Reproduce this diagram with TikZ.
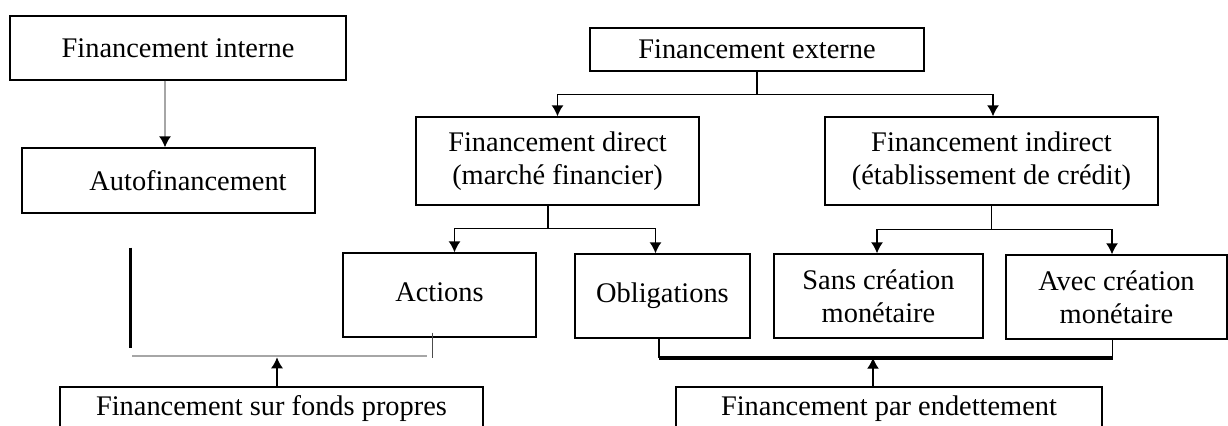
\documentclass[tikz,border=0pt]{standalone}
\usepackage{fontspec}
\setmainfont{Liberation Serif}
\usetikzlibrary{positioning, arrows.meta}
\tikzstyle{box} = [rectangle, draw=black, line width=0.7pt, text centered, align=center, inner sep=0pt, font=\fontsize{14.2}{16.5}\selectfont]
\tikzstyle{arrow} = [line width=0.7pt, -{Latex[length=5.5pt,width=6pt]}]
\tikzstyle{link} = [line width=0.7pt]

\begin{document}
\begin{tikzpicture}[x=0.5pt, y=-0.5pt]
    \useasboundingbox (0,0) rectangle (1228,425);
    \node (interne) [box, minimum width=168pt, minimum height=32pt] at (178,48) {Financement interne};
    \node (autofin) [box, minimum width=146.5pt, minimum height=32.5pt] at (168.5,180.5) {\hspace*{19.5pt}Autofinancement};
    \node (externe) [box, minimum width=167pt, minimum height=21.5pt] at (757,49.5) {Financement externe};
    \node (direct) [box, minimum width=141.5pt, minimum height=44pt] at (557.5,161) {Financement direct\\(marché financier)};
    \node (indirect) [box, minimum width=166.5pt, minimum height=44pt] at (991.5,161) {Financement indirect\\(établissement de crédit)};
    \node (actions) [box, minimum width=96.5pt, minimum height=42pt] at (439.5,295) {\raisebox{3pt}{Actions}};
    \node (oblig) [box, minimum width=87.5pt, minimum height=42pt] at (662.5,296) {\raisebox{3pt}{Obligations}};
    \node (sans) [box, minimum width=104.5pt, minimum height=42pt] at (878.5,296) {Sans création\\monétaire};
    \node (avec) [box, minimum width=110.5pt, minimum height=42pt] at (1116.5,297) {Avec création\\monétaire};
    \node (fonds) [box, minimum width=211.5pt, minimum height=22pt] at (271.5,409) {Financement sur fonds propres};
    \node (dette) [box, minimum width=213pt, minimum height=22pt] at (889,409) {Financement par endettement};

    \draw [arrow, draw=gray!70, -{Latex[length=5.5pt,width=6pt,color=black]}] ([xshift=-6.5pt]interne.south) -- ([xshift=-6.5pt]interne.south |- autofin.north);

    \draw [arrow] (externe.south) -- ++(0,-11.5pt) -| (direct.north);
    \draw [arrow] (externe.south) -- ++(0,-11.5pt) -| ([xshift=0.75pt]indirect.north);
    \draw [arrow] ([xshift=-4.75pt]direct.south) -- ++(0,-11.5pt) -| ([xshift=7.5pt]actions.north);
    \draw [arrow] ([xshift=-4.75pt]direct.south) -- ++(0,-11.5pt) -| ([xshift=-3.5pt]oblig.north);
    \draw [arrow] (indirect.south) -- ++(0,-12pt) -| ([xshift=-0.75pt]sans.north);
    \draw [arrow] (indirect.south) -- ++(0,-12pt) -| ([xshift=-2.25pt]avec.north);

    % fonds propres
    \coordinate (fonds-top) at ([xshift=-19.25pt,yshift=-17pt]autofin.south);
    \draw [line width=1.5pt] (fonds-top) -- ++(0,-50pt);
    \draw [gray!70, line width=1pt] ([xshift=1pt,yshift=-54pt]fonds-top) -- ([xshift=-6.25pt,yshift=-9pt]actions.south);
    \draw [black!70, line width=0.5pt] ([xshift=-3.75pt,yshift=2.5pt]actions.south) -- ++(0,-12.5pt);
    \draw [arrow] ([xshift=2.75pt]fonds.north) -- ++(0,14.5pt);

    % endettement
    \coordinate (dette-l) at ([xshift=-1.75pt,yshift=-9.5pt]oblig.south);
    \coordinate (dette-r) at ([xshift=-2pt,yshift=-9pt]avec.south);
    \draw [link] ([xshift=-1.75pt]oblig.south) -- (dette-l);
    \draw [link] ([xshift=-2pt]avec.south) -- (dette-r);
    \draw [line width=2pt] (dette-l) -- (dette-r);
    \draw [arrow] ([xshift=-8pt]dette.north) -- ([xshift=-8pt]dette.north |- dette-l);
\end{tikzpicture}
\end{document}
